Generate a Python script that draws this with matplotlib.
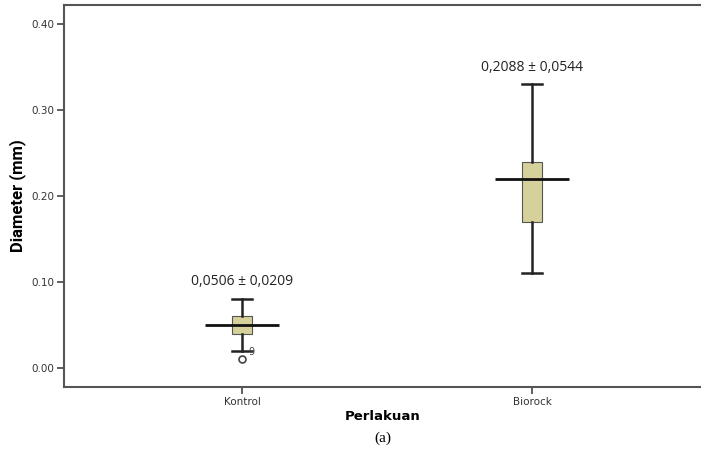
import matplotlib
matplotlib.use("Agg")
import matplotlib.pyplot as plt

# data
groups = ["Kontrol", "Biorock"]
q1 = [0.04, 0.17]
median = [0.05, 0.22]
q3 = [0.06, 0.24]
whislo = [0.02, 0.11]
whishi = [0.08, 0.33]
outliers = [[0.01], []]
outlier_ids = [["9"], []]
labels = ["0,0506 \u00b1 0,0209", "0,2088 \u00b1 0,0544"]
yticks = [0.00, 0.10, 0.20, 0.30, 0.40]

pos = [1, 2]
stats = []
for i in range(len(groups)):
    stats.append(dict(med=median[i], q1=q1[i], q3=q3[i],
                      whislo=whislo[i], whishi=whishi[i], fliers=outliers[i]))

fig = plt.figure(figsize=(7.01, 4.55), dpi=100)
ax = fig.add_axes([64/701, 1-387/455, 1-64/701, 382/455])

ax.bxp(stats, positions=pos, widths=0.066, patch_artist=True,
       showfliers=False,
       boxprops=dict(facecolor="#d6d19a", edgecolor="#555555", linewidth=0.8),
       whiskerprops=dict(color="#222222", linewidth=1.8),
       capprops=dict(color="#222222", linewidth=1.8),
       capwidths=0.066,
       medianprops=dict(linewidth=0))
# long median bars
ax.hlines(median, [p - 0.127 for p in pos], [p + 0.127 for p in pos],
          color="#111111", linewidth=2.0, zorder=4)

for i, p in enumerate(pos):
    for v, lab in zip(outliers[i], outlier_ids[i]):
        ax.plot(p, v, marker="o", ms=5, mfc="white", mec="#444444", mew=1.2,
                linestyle="none")
        ax.text(p + 0.033, v + 0.009, lab, fontsize=7, color="#444444",
                ha="center", va="center")
    ax.text(p, whishi[i] + 0.02, labels[i], ha="center", va="center",
            fontsize=10, family="Open Sans", color="#222222")

ax.set_xlim(0.386, 2.583)
ax.set_ylim(-0.0221, 0.4221)
ax.set_yticks(yticks)
ax.set_yticklabels(["%.2f" % t for t in yticks])
ax.set_xticks(pos)
ax.set_xticklabels(groups)
for lab in ax.get_xticklabels() + ax.get_yticklabels():
    lab.set_family("DejaVu Sans")
    lab.set_fontsize(7.5)
    lab.set_color("#333333")
ax.tick_params(axis="both", direction="out", length=5, width=1.2,
               color="#444444", pad=2)

ax.spines["right"].set_visible(False)
for s in ["left", "top", "bottom"]:
    ax.spines[s].set_color("#555555")
    ax.spines[s].set_linewidth(1.5)

ax.set_ylabel("Diameter (mm)", fontsize=12, fontweight="bold",
              family="Roboto", labelpad=4)
ax.set_xlabel("Perlakuan", fontsize=9.5, fontweight="bold",
              family="DejaVu Sans", labelpad=2)
fig.text(383/701, 1-438/455, "(a)", ha="center", va="center",
         fontsize=11, family="Liberation Serif")

fig.savefig("out.png", dpi=100)
